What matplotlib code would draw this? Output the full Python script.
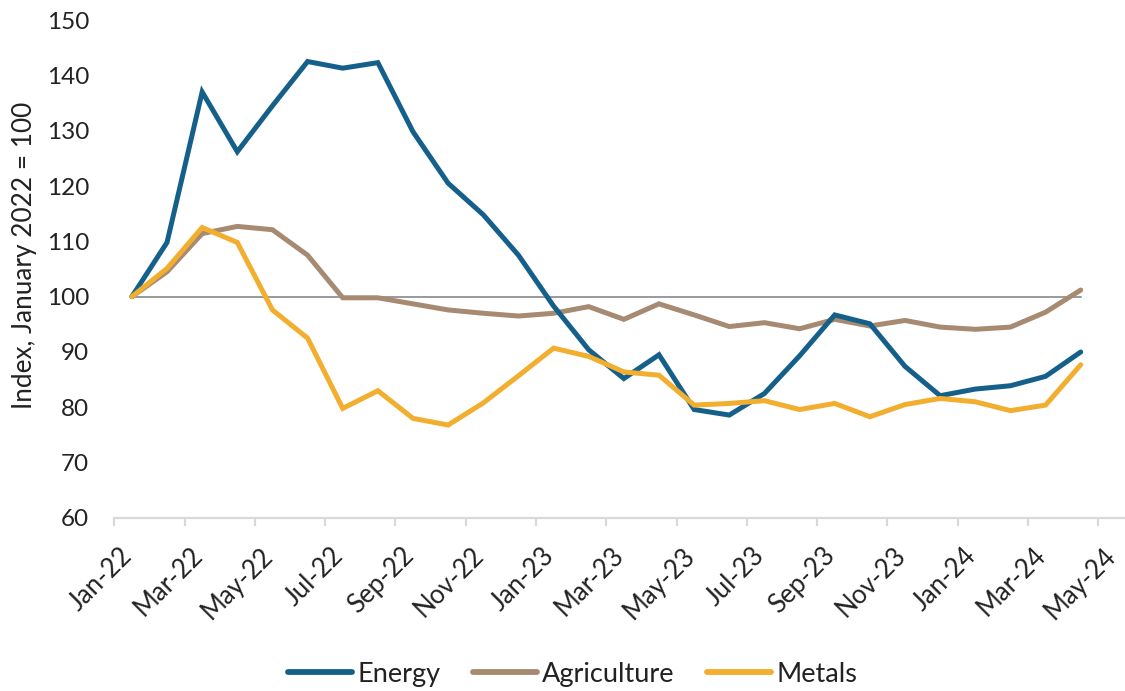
import matplotlib
matplotlib.use("Agg")
import matplotlib.pyplot as plt
from matplotlib.ticker import FixedLocator, NullFormatter, FixedFormatter

plt.rcParams['font.family'] = ['Lato', 'DejaVu Sans']

months = ["Jan-22", "Feb-22", "Mar-22", "Apr-22", "May-22", "Jun-22", "Jul-22", "Aug-22",
          "Sep-22", "Oct-22", "Nov-22", "Dec-22", "Jan-23", "Feb-23", "Mar-23", "Apr-23",
          "May-23", "Jun-23", "Jul-23", "Aug-23", "Sep-23", "Oct-23", "Nov-23", "Dec-23",
          "Jan-24", "Feb-24", "Mar-24", "Apr-24"]
tick_labels = ["Jan-22", "Mar-22", "May-22", "Jul-22", "Sep-22", "Nov-22", "Jan-23", "Mar-23",
               "May-23", "Jul-23", "Sep-23", "Nov-23", "Jan-24", "Mar-24", "May-24"]

energy = [100, 109.8, 137.0, 126.2, 134.5, 142.5, 141.3, 142.3, 129.8, 120.5, 114.8, 107.5,
          98.3, 90.4, 85.2, 89.5, 79.6, 78.6, 82.5, 89.3, 96.7, 95.1, 87.4, 82.1,
          83.3, 83.9, 85.6, 90.0]
agriculture = [100, 104.5, 111.4, 112.7, 112.1, 107.5, 99.8, 99.8, 98.7, 97.6, 97.0, 96.5,
               97.0, 98.2, 95.9, 98.7, 96.7, 94.6, 95.3, 94.2, 95.9, 94.7, 95.7, 94.5,
               94.1, 94.5, 97.2, 101.2]
metals = [100, 105.1, 112.5, 109.8, 97.6, 92.5, 79.8, 83.0, 78.0, 76.8, 80.8, 85.7,
          90.7, 89.2, 86.4, 85.8, 80.4, 80.7, 81.2, 79.6, 80.7, 78.3, 80.5, 81.6,
          81.0, 79.4, 80.4, 87.7]
baseline = [100] * len(months)

fig = plt.figure(figsize=(11.25, 6.91), dpi=100)
ax = fig.add_axes([0.1016, 0.2504, 0.8984, 0.7206])

x = list(range(len(months)))
ax.plot(x, baseline, color='#7f7f7f', lw=1.1, zorder=1)
ax.plot(x, energy, color='#15608b', lw=3.6, label='Energy', solid_capstyle='round', solid_joinstyle='miter', zorder=3)
ax.plot(x, agriculture, color='#a68a72', lw=3.6, label='Agriculture', solid_capstyle='round', solid_joinstyle='miter', zorder=2)
ax.plot(x, metals, color='#f2ae2e', lw=3.6, label='Metals', solid_capstyle='round', solid_joinstyle='miter', zorder=4)

ax.set_ylim(60, 150)
ax.set_yticks(range(60, 151, 10))
ax.set_xlim(-0.5, 28.26)

for s in ['top', 'right', 'left']:
    ax.spines[s].set_visible(False)
ax.spines['bottom'].set_color('#d9d9d9')
ax.spines['bottom'].set_linewidth(1.6)

ax.tick_params(axis='y', length=0, pad=18, labelsize=17.5, labelcolor='#222222')
major = [i - 0.5 for i in range(0, 29, 2)]
ax.xaxis.set_major_locator(FixedLocator(major))
ax.xaxis.set_major_formatter(NullFormatter())
ax.tick_params(axis='x', which='major', length=6, width=1.6, color='#d9d9d9')
minor = [i + 0.05 for i in range(0, 29, 2)]
ax.xaxis.set_minor_locator(FixedLocator(minor))
ax.xaxis.set_minor_formatter(FixedFormatter(tick_labels))
ax.tick_params(axis='x', which='minor', length=0, pad=28, labelsize=18.5, labelcolor='#222222')
for lab in ax.xaxis.get_minorticklabels():
    lab.set_rotation(45)
    lab.set_ha('right')
    lab.set_va('baseline')
    lab.set_rotation_mode('anchor')

ax.set_ylabel('Index, January 2022 = 100', fontsize=18.8, color='#222222')
ax.yaxis.set_label_coords(-0.0765, 0.527)

leg = fig.legend(loc='center', bbox_to_anchor=(0.509, 0.024), ncol=3, frameon=False,
                 fontsize=19.5, handlelength=2.35, columnspacing=1.2, handletextpad=0.2)
for t in leg.get_texts():
    t.set_color('#222222')
for h in leg.get_lines():
    h.set_linewidth(4.2)

fig.savefig('out.png', dpi=100)
